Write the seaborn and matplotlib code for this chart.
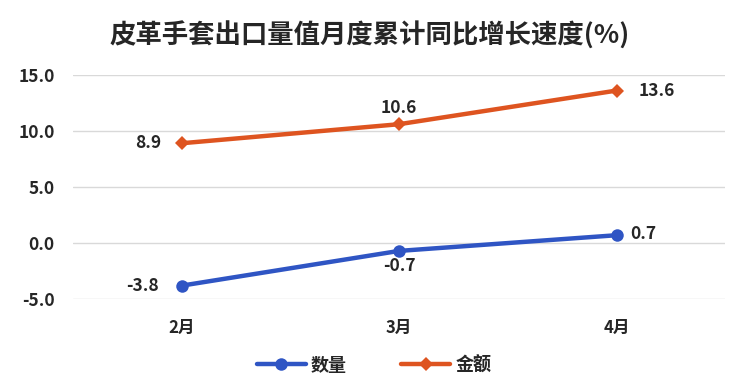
import matplotlib
matplotlib.use("Agg")
import matplotlib.pyplot as plt
import seaborn as sns
import pandas as pd

months = ["2月", "3月", "4月"]
qty = [-3.8, -0.7, 0.7]
amt = [8.9, 10.6, 13.6]
series_names = ["数量", "金额"]
yticks = [-5.0, 0.0, 5.0, 10.0, 15.0]
title = "皮革手套出口量值月度累计同比增长速度(%)"

sns.set_theme(style="white")
plt.rcParams['font.family'] = ['Noto Sans CJK SC', 'DejaVu Sans']

df = pd.DataFrame({
    "月份": months * 2,
    "值": qty + amt,
    "系列": [series_names[0]] * 3 + [series_names[1]] * 3,
})

colors = {"数量": "#2F55C4", "金额": "#DE5420"}
fig = plt.figure(figsize=(7.5, 3.9), dpi=100)
ax = fig.add_axes([0.097, 0.233, 0.87, 0.575])

sns.lineplot(data=df, x="月份", y="值", hue="系列", style="系列",
             markers={"数量": "o", "金额": "D"}, dashes=False,
             palette=colors, linewidth=3.2, markersize=9, markeredgewidth=0,
             ax=ax, sort=False)
for ln in ax.lines:
    if ln.get_marker() == "D":
        ln.set_markersize(7.5)

ax.set_xlim(-0.5, 2.5)
ax.set_ylim(-5, 15)
ax.set_yticks(yticks)
ax.set_yticklabels([f"{v:.1f}" for v in yticks], fontweight="bold", fontsize=12.5)
ax.set_xticks(range(len(months)))
ax.set_xticklabels(months, fontweight="bold", fontsize=12)
ax.tick_params(axis="y", pad=13, length=0)
ax.tick_params(axis="x", pad=14, length=0)
ax.grid(axis="y", color="#D9D9D9", linewidth=1)
for s in ax.spines.values():
    s.set_visible(False)
ax.set_xlabel("")
ax.set_ylabel("")

# data labels
amt_off = [(-24, 0), (0, 12), (29, 0)]
qty_off = [(-28, 0), (0, -11), (19, 1)]
for i, v in enumerate(amt):
    ax.annotate(f"{v:.1f}", (i, v), xytext=amt_off[i], textcoords="offset points",
                ha="center", va="center", fontweight="bold", fontsize=12.5)
for i, v in enumerate(qty):
    ax.annotate(f"{v:.1f}", (i, v), xytext=qty_off[i], textcoords="offset points",
                ha="center", va="center", fontweight="bold", fontsize=12.5)

leg = ax.legend(loc="center", bbox_to_anchor=(0.462, -0.295), ncol=2, frameon=False,
                prop={"weight": "bold", "size": 13}, handlelength=2.7,
                columnspacing=3.0, handletextpad=0.3)

fig.suptitle(title, x=0.493, y=0.945, fontsize=19, fontweight="bold")
fig.savefig("out.png", dpi=100, facecolor="white")
